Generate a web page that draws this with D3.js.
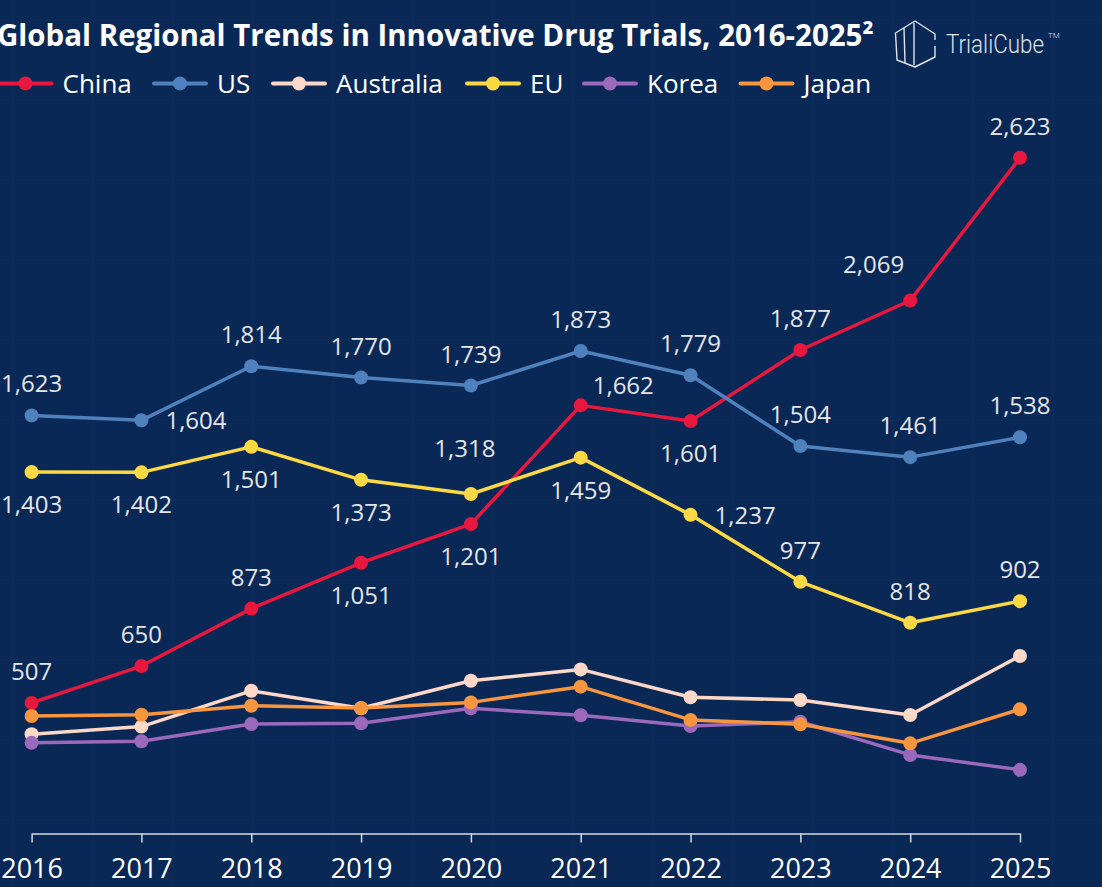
<!DOCTYPE html>
<html>
<head>
<meta charset="utf-8">
<script src="https://cdn.jsdelivr.net/npm/d3@7"></script>
<style>
  html, body { margin: 0; padding: 0; background: #0a2856; overflow: hidden; }
  svg { display: block; }
</style>
</head>
<body>
<div id="chart"></div>
<script>
// data (Australia / Korea / Japan are unlabelled, estimated)
const years = ["2016", "2017", "2018", "2019", "2020", "2021", "2022", "2023", "2024", "2025"];
const china = [507, 650, 873, 1051, 1201, 1662, 1601, 1877, 2069, 2623];
const us = [1623, 1604, 1814, 1770, 1739, 1873, 1779, 1504, 1461, 1538];
const australia = [385, 415, 554, 486, 593, 637, 529, 518, 460, 689];
const eu = [1403, 1402, 1501, 1373, 1318, 1459, 1237, 977, 818, 902];
const korea = [352, 358, 425, 428, 486, 459, 417, 434, 305, 247];
const japan = [456, 461, 496, 487, 509, 570, 441, 424, 350, 482];

const seriesNames = ["China", "US", "Australia", "EU", "Korea", "Japan"];
const seriesValues = [china, us, australia, eu, korea, japan];
const seriesColors = ["#e8173d", "#4f81bd", "#fbd8c8", "#fcd944", "#9a69bb", "#f7963f"];

// where each value label sits relative to its point (null = no label)
const labelSpots = {
    China: ["t", "t", "t", "b", "b", "tr", "b", "t", "tl", "t"],
    US: ["t", "r", "t", "t", "t", "t", "t", "t", "t", "t"],
    EU: ["b", "b", "b", "b", "T", "b", "r", "t", "t", "t"]
};

const W = 1102, H = 887;
const LABEL_COLOR = "#e4e6ea";
const FONT = "'Open Sans', 'Noto Sans', sans-serif";

const svg = d3.select("#chart")
    .append("svg")
    .attr("width", W)
    .attr("height", H);

svg.append("rect")
    .attr("width", W)
    .attr("height", H)
    .attr("fill", "#0a2856");

// faint background texture
const grid = svg.append("g").attr("stroke", "#ffffff").attr("stroke-opacity", 0.012);
d3.range(13, W, 80).forEach(gx => {
    grid.append("line").attr("x1", gx).attr("x2", gx).attr("y1", 0).attr("y2", H).attr("stroke-width", 3);
});
d3.range(20, H, 80).forEach(gy => {
    grid.append("line").attr("x1", 0).attr("x2", W).attr("y1", gy).attr("y2", gy).attr("stroke-width", 3);
});

const x = d3.scalePoint()
    .domain(years)
    .range([31.6, 1020]);

const y = d3.scaleLinear()
    .domain([0, 2700])
    .range([833.5, 833.5 - 2700 * 0.2576]);

// x axis
const xAxis = d3.axisBottom(x)
    .tickSize(9)
    .tickPadding(10)
    .tickSizeOuter(0);

const axisG = svg.append("g")
    .attr("transform", "translate(0," + y(0) + ")")
    .call(xAxis);

axisG.select(".domain")
    .attr("stroke", "#d4d9e3")
    .attr("stroke-width", 1.5);
axisG.selectAll(".tick line")
    .attr("stroke", "#d4d9e3")
    .attr("stroke-width", 1.5);
axisG.selectAll(".tick text")
    .attr("fill", "#ffffff")
    .attr("font-family", FONT)
    .attr("font-size", 27)
    .attr("dy", "0.95em");

// lines and dots
const line = d3.line()
    .x((d, i) => x(years[i]))
    .y(d => y(d));

const series = seriesNames.map((name, k) => ({
    name: name,
    values: seriesValues[k],
    color: seriesColors[k]
}));

const seriesG = svg.append("g")
    .selectAll("g.series")
    .data(series)
    .join("g")
    .attr("class", "series");

seriesG.append("path")
    .attr("d", d => line(d.values))
    .attr("fill", "none")
    .attr("stroke", d => d.color)
    .attr("stroke-width", 3.5)
    .attr("stroke-linejoin", "round");

seriesG.selectAll("circle")
    .data(d => d.values.map((v, i) => ({ v: v, i: i, color: d.color })))
    .join("circle")
    .attr("cx", d => x(years[d.i]))
    .attr("cy", d => y(d.v))
    .attr("r", 7)
    .attr("fill", d => d.color);

// value labels
const spotOffset = {
    t: { dx: 0, dy: -23, anchor: "middle" },
    T: { dx: -6, dy: -37, anchor: "middle" },
    b: { dx: 0, dy: 41, anchor: "middle" },
    r: { dx: 24, dy: 9, anchor: "start" },
    tr: { dx: 12, dy: -11, anchor: "start" },
    tl: { dx: -6, dy: -28, anchor: "end" }
};

const labels = [];
series.forEach(s => {
    const spots = labelSpots[s.name];
    if (!spots) return;
    s.values.forEach((v, i) => {
        if (spots[i]) labels.push({ v: v, i: i, spot: spotOffset[spots[i]] });
    });
});

svg.append("g")
    .selectAll("text")
    .data(labels)
    .join("text")
    .attr("x", d => x(years[d.i]) + d.spot.dx)
    .attr("y", d => y(d.v) + d.spot.dy)
    .attr("text-anchor", d => d.spot.anchor)
    .attr("font-family", FONT)
    .attr("font-size", 24)
    .attr("fill", LABEL_COLOR)
    .text(d => d3.format(",")(d.v));

// title
const title = svg.append("text")
    .attr("x", -3)
    .attr("y", 46)
    .attr("font-family", FONT)
    .attr("font-weight", "bold")
    .attr("font-size", 27)
    .attr("fill", "#ffffff");
title.append("tspan").attr("class", "main").text("Global Regional Trends in Innovative Drug Trials, 2016-2025");
title.append("tspan").text("\u00B2");

// squeeze the title main text to the width seen in the picture
const mainSpan = title.select("tspan.main").node();
const mainW = mainSpan.getComputedTextLength();
if (mainW > 0) {
    const fs = 27 * 866 / mainW;
    title.attr("font-size", Math.min(fs, 30));
}

// legend
const legendX = [-0.5, 154, 273, 467, 584, 740.5];
const legend = svg.append("g")
    .selectAll("g")
    .data(series)
    .join("g")
    .attr("transform", (d, i) => "translate(" + legendX[i] + ",83.5)");

legend.append("line")
    .attr("x1", 0)
    .attr("x2", 52)
    .attr("stroke", d => d.color)
    .attr("stroke-width", 4)
    .attr("stroke-linecap", "round");
legend.append("circle")
    .attr("cx", 26)
    .attr("r", 7)
    .attr("fill", d => d.color);
legend.append("text")
    .attr("x", 63)
    .attr("y", 9)
    .attr("font-family", FONT)
    .attr("font-size", 26)
    .attr("fill", "#ffffff")
    .text(d => d.name);

// logo
const logo = svg.append("g")
    .attr("fill", "none")
    .attr("stroke", "#dfe3ea")
    .attr("stroke-width", 1.4)
    .attr("stroke-linejoin", "round");
logo.append("path").attr("d", "M915,21 L935,34 L935,40 M935,46 L935,57 L915,67 L897,60 L895.5,33 L915,21");
logo.append("path").attr("d", "M914,23 L914,65");
logo.append("path").attr("d", "M904,28 L905,63");

const brand = svg.append("text")
    .attr("x", 946)
    .attr("y", 53)
    .attr("font-family", "Roboto, 'Open Sans', sans-serif")
    .attr("font-weight", 300)
    .attr("fill", "#dfe3ea");
brand.append("tspan")
    .attr("font-size", 26)
    .attr("textLength", 98)
    .attr("lengthAdjust", "spacingAndGlyphs")
    .text("TrialiCube");
brand.append("tspan")
    .attr("font-size", 8)
    .attr("dx", 4)
    .attr("dy", -15)
    .text("TM");
</script>
</body>
</html>
